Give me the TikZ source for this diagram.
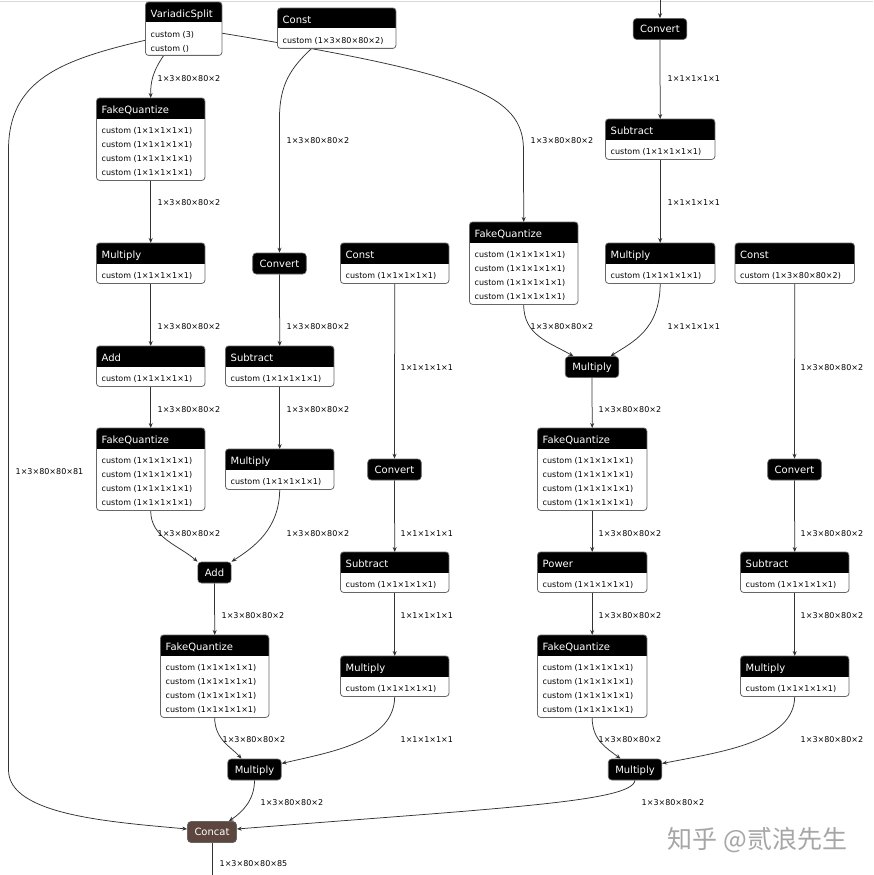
\documentclass[tikz,border=0pt]{standalone}
\usepackage{fontspec}
\setmainfont{DejaVu Sans}
\newfontfamily\cjkfont{Noto Sans CJK SC}
\usetikzlibrary{arrows.meta,calc}
\pgfdeclarelayer{bg}\pgfdeclarelayer{edges}\pgfsetlayers{bg,edges,main}
\definecolor{concatbrown}{RGB}{92,70,62}
\tikzset{
 boxouter/.style={draw=none, fill=white, rounded corners=3pt, inner sep=0pt, anchor=north west},
 boxborder/.style={draw=black!60, line width=0.8pt, rounded corners=3pt},
 hdr/.style={text=white, font=\fontsize{10}{12}\selectfont, inner sep=0pt, anchor=west, text height=7.5pt, text depth=2pt},
 bodytxt/.style={font=\fontsize{8}{14}\selectfont, inner sep=0pt, anchor=north west, align=left},
 pill/.style={fill=black, draw=black!60, line width=0.6pt, rounded corners=3.5pt, text=white, font=\fontsize{10}{12}\selectfont, minimum height=21pt, inner xsep=7pt, inner ysep=0pt, text height=7.5pt, text depth=0pt},
 conn/.style={draw=black!80, line width=0.75pt, -{Stealth[length=5pt,width=4pt]}},
 plainconn/.style={draw=black!80, line width=0.75pt},
 lbl/.style={font=\fontsize{8}{10}\selectfont, inner sep=0pt, anchor=west, yshift=-1.5pt},
}
\newcommand\opbox[7]{%
 \node[boxouter, minimum width=#4pt, minimum height=#5pt] (#1) at (#2,#3) {};
 \begin{scope}
  \clip[rounded corners=3pt] (#1.south west) rectangle (#1.north east);
  \fill[black] (#1.north west) rectangle ([yshift=-20.5pt]#1.north east);
 \end{scope}
 \draw[boxborder] (#1.south west) rectangle (#1.north east);
 \node[hdr] (#1-h) at ([shift={(5pt,-12.5pt)}]#1.north west) {#6};
 \node[bodytxt] (#1-b) at ([shift={(5pt,-29.5pt)}]#1.north west) {#7};
}
\begin{document}
\begin{tikzpicture}[x=1pt,y=-1pt]
\begin{pgfonlayer}{bg}
\fill[white] (0,0) rectangle (872,875);
\draw[black!15, line width=1pt] (0,1.5) -- (872,1.5);
\end{pgfonlayer}
\useasboundingbox (0,0) rectangle (872,875);

% boxes
\opbox{vs}{145}{2}{76}{53}{VariadicSplit}{custom (3)\\custom ()}
\opbox{c1}{277}{8}{118}{40}{Const}{custom (1×3×80×80×2)}
\opbox{fq1}{96}{98}{108}{82}{FakeQuantize}{custom (1×1×1×1×1)\\custom (1×1×1×1×1)\\custom (1×1×1×1×1)\\custom (1×1×1×1×1)}
\opbox{mu1}{96}{243}{108}{40}{Multiply}{custom (1×1×1×1×1)}
\opbox{ad1}{96}{346}{108}{40}{Add}{custom (1×1×1×1×1)}
\opbox{fq2}{96}{428}{108}{82}{FakeQuantize}{custom (1×1×1×1×1)\\custom (1×1×1×1×1)\\custom (1×1×1×1×1)\\custom (1×1×1×1×1)}
\opbox{su2}{225}{346}{108}{40}{Subtract}{custom (1×1×1×1×1)}
\opbox{mu2}{225}{449}{108}{40}{Multiply}{custom (1×1×1×1×1)}
\opbox{c3}{340}{243}{108}{40}{Const}{custom (1×1×1×1×1)}
\opbox{su3}{340}{552}{108}{40}{Subtract}{custom (1×1×1×1×1)}
\opbox{mu3}{340}{656}{108}{40}{Multiply}{custom (1×1×1×1×1)}
\opbox{fq3}{160}{635}{108}{82}{FakeQuantize}{custom (1×1×1×1×1)\\custom (1×1×1×1×1)\\custom (1×1×1×1×1)\\custom (1×1×1×1×1)}
\opbox{su4}{605}{119}{109}{40}{Subtract}{custom (1×1×1×1×1)}
\opbox{mu4}{605}{243}{109}{40}{Multiply}{custom (1×1×1×1×1)}
\opbox{fq4}{469}{222}{108}{82}{FakeQuantize}{custom (1×1×1×1×1)\\custom (1×1×1×1×1)\\custom (1×1×1×1×1)\\custom (1×1×1×1×1)}
\opbox{fq5}{537}{428}{109}{82}{FakeQuantize}{custom (1×1×1×1×1)\\custom (1×1×1×1×1)\\custom (1×1×1×1×1)\\custom (1×1×1×1×1)}
\opbox{pw5}{537}{552}{109}{40}{Power}{custom (1×1×1×1×1)}
\opbox{fq6}{537}{635}{109}{82}{FakeQuantize}{custom (1×1×1×1×1)\\custom (1×1×1×1×1)\\custom (1×1×1×1×1)\\custom (1×1×1×1×1)}
\opbox{c7}{734.5}{243}{119}{40}{Const}{custom (1×3×80×80×2)}
\opbox{su7}{740}{552}{108}{40}{Subtract}{custom (1×1×1×1×1)}
\opbox{mu7}{740}{656}{108}{40}{Multiply}{custom (1×1×1×1×1)}

% pills
\node[pill] (cv2) at (279,263.5) {Convert};
\node[pill] (cv3) at (394,469.5) {Convert};
\node[pill] (cvt) at (659.5,29) {Convert};
\node[pill] (cv7) at (794,469.5) {Convert};
\node[pill] (addp) at (214,572.5) {Add};
\node[pill] (mp1) at (254,769.5) {Multiply};
\node[pill] (mp4) at (591.5,367) {Multiply};
\node[pill] (mp6) at (634.5,769.5) {Multiply};
\node[pill, fill=concatbrown] (cc) at (211.5,832) {Concat};

\coordinate (topin) at (659.5,0);
\coordinate (outend) at (211.5,875);

\begin{pgfonlayer}{edges}
\draw[conn] ([xshift=-20pt]vs.south) .. controls (152,72) and (150,82) .. (fq1.north);
\draw[conn] ([yshift=-11.5pt]vs.west) .. controls (60,60) and (8,80) .. (8,150) -- (8,770) .. controls (8,815) and (110,822) .. ([yshift=3pt]cc.west);
\draw[conn] ([yshift=-4.5pt]vs.east) .. controls (470,74) and (523,95) .. (523,150) -- (fq4.north);
\draw[conn] ([xshift=-25pt]c1.south) .. controls (290,68) and (279,85) .. (279,118) -- (cv2.north);
\draw[conn] (fq1.south) -- (mu1.north);
\draw[conn] (mu1.south) -- (ad1.north);
\draw[conn] (ad1.south) -- (fq2.north);
\draw[conn] (fq2.south) .. controls (150,538) and (178,545) .. (addp.north west);
\draw[conn] (cv2.south) -- (su2.north);
\draw[conn] (su2.south) -- (mu2.north);
\draw[conn] (mu2.south) .. controls (279,530) and (252,548) .. (addp.north east);
\draw[conn] (c3.south) -- (cv3.north);
\draw[conn] (cv3.south) -- (su3.north);
\draw[conn] (su3.south) -- (mu3.north);
\draw[conn] (mu3.south) .. controls (394,742) and (330,752) .. ([yshift=6pt]mp1.east);
\draw[conn] (addp.south) -- (fq3.north);
\draw[conn] (fq3.south) .. controls (214,740) and (232,748) .. ([xshift=-13pt]mp1.north);
\draw[conn] (mp1.south) .. controls (254,800) and (242,812) .. ([xshift=-8pt]cc.north east);
\draw[conn] (topin) -- (cvt.north);
\draw[conn] (cvt.south) -- (su4.north);
\draw[conn] (su4.south) -- (mu4.north);
\draw[conn] (fq4.south) .. controls (523,335) and (548,342) .. ([xshift=-18.5pt]mp4.north);
\draw[conn] (mu4.south) .. controls (659.5,330) and (632,342) .. ([xshift=18.5pt]mp4.north);
\draw[conn] (mp4.south) -- (fq5.north);
\draw[conn] (fq5.south) -- (pw5.north);
\draw[conn] (pw5.south) -- (fq6.north);
\draw[conn] (fq6.south) .. controls (591.5,740) and (606,748) .. ([xshift=-14.5pt]mp6.north);
\draw[conn] (c7.south) -- (cv7.north);
\draw[conn] (cv7.south) -- (su7.north);
\draw[conn] (su7.south) -- (mu7.north);
\draw[conn] (mu7.south) .. controls (794,742) and (720,752) .. ([yshift=6pt]mp6.east);
\draw[conn] (mp6.south) .. controls (632,802) and (500,808) .. ([yshift=3pt]cc.east);
\draw[plainconn] (cc.south) -- (outend);
\end{pgfonlayer}

% labels
\node[lbl] (l1) at (157,77) {1×3×80×80×2};
\node[lbl] (l2) at (15,470) {1×3×80×80×81};
\node[lbl] (l3) at (530,139) {1×3×80×80×2};
\node[lbl] (l4) at (286,139) {1×3×80×80×2};
\node[lbl] (l5) at (157,201) {1×3×80×80×2};
\node[lbl] (l6) at (157,325) {1×3×80×80×2};
\node[lbl] (l7) at (157,408) {1×3×80×80×2};
\node[lbl] (l8) at (157,532) {1×3×80×80×2};
\node[lbl] (l9) at (286,325) {1×3×80×80×2};
\node[lbl] (l10) at (286,408) {1×3×80×80×2};
\node[lbl] (l11) at (286,532) {1×3×80×80×2};
\node[lbl] (l12) at (400,366) {1×1×1×1×1};
\node[lbl] (l13) at (400,532) {1×1×1×1×1};
\node[lbl] (l14) at (400,614) {1×1×1×1×1};
\node[lbl] (l15) at (400,738) {1×1×1×1×1};
\node[lbl] (l16) at (221,614) {1×3×80×80×2};
\node[lbl] (l17) at (222,738) {1×3×80×80×2};
\node[lbl] (l18) at (260,801) {1×3×80×80×2};
\node[lbl] (l20) at (667,77) {1×1×1×1×1};
\node[lbl] (l21) at (667,201) {1×1×1×1×1};
\node[lbl] (l22) at (530,325) {1×3×80×80×2};
\node[lbl] (l23) at (667,325) {1×1×1×1×1};
\node[lbl] (l24) at (598,408) {1×3×80×80×2};
\node[lbl] (l25) at (598,532) {1×3×80×80×2};
\node[lbl] (l26) at (598,614) {1×3×80×80×2};
\node[lbl] (l27) at (598,738) {1×3×80×80×2};
\node[lbl] (l28) at (800,366) {1×3×80×80×2};
\node[lbl] (l29) at (800,532) {1×3×80×80×2};
\node[lbl] (l30) at (800,614) {1×3×80×80×2};
\node[lbl] (l31) at (800,738) {1×3×80×80×2};
\node[lbl] (l32) at (641,801) {1×3×80×80×2};
\node[lbl] (l33) at (219,862) {1×3×80×80×85};

% watermark
\node[font=\cjkfont\fontsize{25}{28}\selectfont, text=black!35, inner sep=0pt] (wm) at (757,840) {知乎 @贰浪先生};
\end{tikzpicture}
\end{document}
